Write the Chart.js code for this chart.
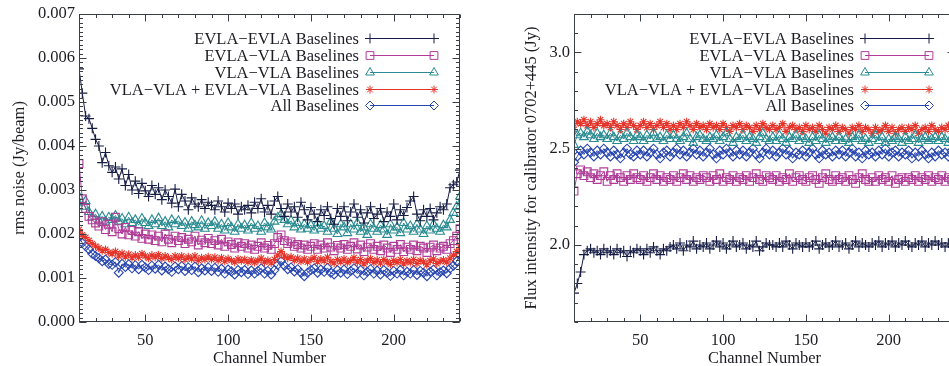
<!DOCTYPE html>
<html>
<head>
<meta charset="utf-8">
<script src="https://cdn.jsdelivr.net/npm/chart.js@4.4.1/dist/chart.umd.min.js"></script>
<style>
  html, body { margin: 0; padding: 0; background: #fff; width: 949px; height: 366px; overflow: hidden; position: relative; }
  canvas { position: absolute; top: 0; }
  #noise { left: 0; }
  #flux { left: 495px; }
</style>
</head>
<body>
<canvas id="noise" width="475" height="366"></canvas>
<canvas id="flux" width="475" height="366"></canvas>
<script>
// channel numbers (every 2nd channel)
const channels = [
  10, 12, 14, 16, 18, 20, 22, 24, 26, 28,
  30, 32, 34, 36, 38, 40, 42, 44, 46, 48,
  50, 52, 54, 56, 58, 60, 62, 64, 66, 68,
  70, 72, 74, 76, 78, 80, 82, 84, 86, 88,
  90, 92, 94, 96, 98, 100, 102, 104, 106, 108,
  110, 112, 114, 116, 118, 120, 122, 124, 126, 128,
  130, 132, 134, 136, 138, 140, 142, 144, 146, 148,
  150, 152, 154, 156, 158, 160, 162, 164, 166, 168,
  170, 172, 174, 176, 178, 180, 182, 184, 186, 188,
  190, 192, 194, 196, 198, 200, 202, 204, 206, 208,
  210, 212, 214, 216, 218, 220, 222, 224, 226, 228,
  230, 232, 234, 236, 238, 240
];

const seriesNames = [
  'EVLA\u2212EVLA Baselines',
  'EVLA\u2212VLA Baselines',
  'VLA\u2212VLA Baselines',
  'VLA\u2212VLA + EVLA\u2212VLA Baselines',
  'All Baselines'
];

// rms noise (Jy/beam)
const noiseEE = [
  0.00575, 0.00520, 0.00468, 0.00462, 0.00440, 0.00415, 0.00400, 0.00362, 0.00385, 0.00355,
  0.00340, 0.00352, 0.00325, 0.00348, 0.00310, 0.00335, 0.00300, 0.00320, 0.00292, 0.00315,
  0.00298, 0.00285, 0.00310, 0.00290, 0.00305, 0.00278, 0.00300, 0.00285, 0.00270, 0.00302,
  0.00262, 0.00290, 0.00275, 0.00255, 0.00282, 0.00268, 0.00262, 0.00278, 0.00258, 0.00272,
  0.00265, 0.00255, 0.00275, 0.00262, 0.00250, 0.00270, 0.00258, 0.00268, 0.00245, 0.00262,
  0.00255, 0.00265, 0.00248, 0.00272, 0.00258, 0.00280, 0.00250, 0.00265, 0.00245, 0.00275,
  0.00285, 0.00258, 0.00240, 0.00268, 0.00250, 0.00262, 0.00238, 0.00272, 0.00255, 0.00232,
  0.00260, 0.00245, 0.00228, 0.00255, 0.00242, 0.00262, 0.00235, 0.00222, 0.00258, 0.00240,
  0.00262, 0.00230, 0.00250, 0.00268, 0.00238, 0.00255, 0.00225, 0.00248, 0.00262, 0.00235,
  0.00245, 0.00258, 0.00228, 0.00250, 0.00240, 0.00268, 0.00232, 0.00255, 0.00242, 0.00260,
  0.00275, 0.00285, 0.00245, 0.00230, 0.00255, 0.00240, 0.00258, 0.00232, 0.00248, 0.00262,
  0.00255, 0.00268, 0.00305, 0.00312, 0.00318, 0.00345
];
const noiseEV = [
  0.00360, 0.00280, 0.00258, 0.00240, 0.00232, 0.00225, 0.00218, 0.00228, 0.00210, 0.00222,
  0.00205, 0.00238, 0.00212, 0.00200, 0.00215, 0.00198, 0.00208, 0.00195, 0.00205, 0.00190,
  0.00200, 0.00188, 0.00198, 0.00185, 0.00195, 0.00182, 0.00200, 0.00188, 0.00180, 0.00195,
  0.00185, 0.00192, 0.00178, 0.00188, 0.00182, 0.00195, 0.00175, 0.00186, 0.00180, 0.00190,
  0.00178, 0.00185, 0.00175, 0.00188, 0.00172, 0.00182, 0.00176, 0.00168, 0.00180, 0.00172,
  0.00178, 0.00168, 0.00175, 0.00165, 0.00172, 0.00180, 0.00168, 0.00174, 0.00165, 0.00178,
  0.00192, 0.00198, 0.00185, 0.00178, 0.00182, 0.00172, 0.00176, 0.00168, 0.00175, 0.00165,
  0.00172, 0.00178, 0.00165, 0.00175, 0.00168, 0.00180, 0.00170, 0.00162, 0.00174, 0.00168,
  0.00176, 0.00165, 0.00172, 0.00180, 0.00166, 0.00175, 0.00160, 0.00170, 0.00178, 0.00165,
  0.00172, 0.00162, 0.00175, 0.00168, 0.00158, 0.00172, 0.00165, 0.00176, 0.00160, 0.00170,
  0.00165, 0.00175, 0.00162, 0.00172, 0.00168, 0.00158, 0.00170, 0.00175, 0.00162, 0.00168,
  0.00172, 0.00165, 0.00178, 0.00185, 0.00195, 0.00212
];
const noiseVV = [
  0.00285, 0.00262, 0.00275, 0.00250, 0.00238, 0.00245, 0.00230, 0.00240, 0.00228, 0.00238,
  0.00232, 0.00242, 0.00228, 0.00235, 0.00222, 0.00238, 0.00225, 0.00232, 0.00220, 0.00235,
  0.00225, 0.00218, 0.00232, 0.00222, 0.00236, 0.00218, 0.00228, 0.00215, 0.00232, 0.00222,
  0.00230, 0.00218, 0.00226, 0.00212, 0.00228, 0.00220, 0.00215, 0.00230, 0.00212, 0.00225,
  0.00218, 0.00228, 0.00212, 0.00222, 0.00208, 0.00225, 0.00215, 0.00205, 0.00222, 0.00212,
  0.00220, 0.00208, 0.00225, 0.00212, 0.00218, 0.00205, 0.00225, 0.00215, 0.00210, 0.00228,
  0.00238, 0.00245, 0.00232, 0.00222, 0.00230, 0.00215, 0.00225, 0.00210, 0.00222, 0.00212,
  0.00220, 0.00208, 0.00225, 0.00212, 0.00218, 0.00205, 0.00228, 0.00212, 0.00200, 0.00222,
  0.00215, 0.00202, 0.00222, 0.00210, 0.00225, 0.00205, 0.00215, 0.00198, 0.00222, 0.00212,
  0.00205, 0.00220, 0.00210, 0.00198, 0.00222, 0.00208, 0.00215, 0.00202, 0.00225, 0.00210,
  0.00218, 0.00205, 0.00222, 0.00210, 0.00200, 0.00218, 0.00208, 0.00222, 0.00212, 0.00205,
  0.00220, 0.00215, 0.00232, 0.00248, 0.00262, 0.00285
];
const noiseMix = [
  0.00210, 0.00198, 0.00192, 0.00185, 0.00178, 0.00172, 0.00168, 0.00162, 0.00165, 0.00158,
  0.00155, 0.00160, 0.00150, 0.00156, 0.00148, 0.00154, 0.00146, 0.00152, 0.00147, 0.00155,
  0.00150, 0.00145, 0.00152, 0.00147, 0.00153, 0.00144, 0.00150, 0.00146, 0.00142, 0.00150,
  0.00145, 0.00150, 0.00142, 0.00148, 0.00143, 0.00150, 0.00140, 0.00146, 0.00142, 0.00148,
  0.00142, 0.00147, 0.00140, 0.00146, 0.00138, 0.00144, 0.00140, 0.00136, 0.00143, 0.00139,
  0.00142, 0.00136, 0.00141, 0.00135, 0.00140, 0.00145, 0.00136, 0.00140, 0.00134, 0.00142,
  0.00152, 0.00160, 0.00150, 0.00145, 0.00148, 0.00140, 0.00145, 0.00138, 0.00143, 0.00136,
  0.00142, 0.00146, 0.00137, 0.00143, 0.00139, 0.00147, 0.00138, 0.00134, 0.00142, 0.00137,
  0.00143, 0.00135, 0.00140, 0.00146, 0.00136, 0.00142, 0.00132, 0.00139, 0.00144, 0.00135,
  0.00141, 0.00134, 0.00142, 0.00137, 0.00131, 0.00140, 0.00135, 0.00142, 0.00132, 0.00139,
  0.00135, 0.00142, 0.00133, 0.00140, 0.00137, 0.00130, 0.00139, 0.00143, 0.00133, 0.00138,
  0.00141, 0.00136, 0.00145, 0.00152, 0.00160, 0.00175
];
const noiseAll = [
  0.00192, 0.00180, 0.00172, 0.00165, 0.00155, 0.00150, 0.00145, 0.00138, 0.00142, 0.00132,
  0.00130, 0.00136, 0.00112, 0.00132, 0.00125, 0.00131, 0.00122, 0.00129, 0.00120, 0.00130,
  0.00124, 0.00118, 0.00128, 0.00121, 0.00130, 0.00117, 0.00126, 0.00120, 0.00114, 0.00126,
  0.00120, 0.00127, 0.00116, 0.00124, 0.00118, 0.00126, 0.00113, 0.00122, 0.00117, 0.00124,
  0.00116, 0.00123, 0.00114, 0.00121, 0.00110, 0.00119, 0.00115, 0.00108, 0.00118, 0.00113,
  0.00118, 0.00109, 0.00117, 0.00110, 0.00116, 0.00122, 0.00110, 0.00116, 0.00108, 0.00118,
  0.00130, 0.00138, 0.00128, 0.00120, 0.00124, 0.00115, 0.00120, 0.00112, 0.00104, 0.00112,
  0.00118, 0.00122, 0.00112, 0.00119, 0.00114, 0.00123, 0.00112, 0.00108, 0.00118, 0.00112,
  0.00119, 0.00109, 0.00116, 0.00122, 0.00110, 0.00118, 0.00106, 0.00114, 0.00120, 0.00110,
  0.00117, 0.00108, 0.00118, 0.00112, 0.00105, 0.00116, 0.00110, 0.00118, 0.00106, 0.00114,
  0.00110, 0.00118, 0.00107, 0.00116, 0.00112, 0.00104, 0.00114, 0.00119, 0.00106, 0.00113,
  0.00117, 0.00111, 0.00122, 0.00128, 0.00138, 0.00152
];

// flux intensity for calibrator 0702+445 (Jy)
const fluxEE = [
  1.75, 1.80, 1.86, 1.95, 1.97, 1.98, 1.96, 1.97, 1.95, 1.98,
  1.96, 1.97, 1.95, 1.98, 1.96, 1.97, 1.94, 1.97, 1.96, 1.98,
  1.97, 1.95, 1.98, 1.96, 1.99, 1.97, 1.95, 1.98, 1.97, 1.99,
  2.00, 1.98, 2.01, 1.97, 2.00, 1.99, 2.02, 1.98, 2.00, 1.99,
  2.01, 1.98, 2.00, 2.02, 1.99, 2.01, 1.98, 2.00, 2.02, 1.99,
  2.00, 2.01, 1.98, 2.00, 1.99, 2.02, 1.97, 1.99, 2.01, 2.00,
  2.00, 1.99, 2.01, 1.99, 2.02, 2.00, 1.98, 2.01, 2.00, 1.99,
  2.01, 1.99, 2.00, 2.02, 1.98, 2.00, 2.01, 1.99, 2.00, 2.02,
  1.99, 2.00, 2.01, 1.98, 2.00, 2.02, 1.99, 2.01, 2.00, 1.99,
  2.01, 2.00, 2.02, 1.99, 2.01, 2.00, 2.02, 1.99, 2.01, 2.00,
  2.02, 2.00, 1.99, 2.01, 2.00, 2.02, 1.99, 2.01, 2.00, 2.02,
  2.00, 2.01, 1.99, 2.01, 2.00, 2.00
];
const fluxEV = [
  2.28, 2.37, 2.39, 2.36, 2.38, 2.35, 2.37, 2.34, 2.36, 2.38,
  2.33, 2.36, 2.34, 2.37, 2.35, 2.33, 2.36, 2.34, 2.37, 2.35,
  2.34, 2.36, 2.33, 2.35, 2.37, 2.34, 2.36, 2.33, 2.35, 2.34,
  2.36, 2.33, 2.35, 2.37, 2.34, 2.36, 2.33, 2.35, 2.34, 2.36,
  2.35, 2.33, 2.36, 2.34, 2.37, 2.33, 2.35, 2.34, 2.36, 2.33,
  2.35, 2.34, 2.36, 2.33, 2.35, 2.37, 2.34, 2.33, 2.36, 2.35,
  2.34, 2.36, 2.33, 2.35, 2.34, 2.37, 2.33, 2.35, 2.36, 2.34,
  2.33, 2.35, 2.36, 2.34, 2.32, 2.35, 2.37, 2.34, 2.33, 2.36,
  2.34, 2.35, 2.33, 2.36, 2.34, 2.32, 2.35, 2.37, 2.34, 2.33,
  2.35, 2.33, 2.36, 2.34, 2.35, 2.33, 2.36, 2.32, 2.34, 2.35,
  2.33, 2.35, 2.34, 2.36, 2.33, 2.35, 2.34, 2.36, 2.33, 2.35,
  2.34, 2.36, 2.33, 2.35, 2.34, 2.35
];
const fluxVV = [
  2.52, 2.57, 2.58, 2.56, 2.59, 2.57, 2.55, 2.58, 2.56, 2.57,
  2.55, 2.58, 2.56, 2.54, 2.57, 2.55, 2.58, 2.56, 2.54, 2.57,
  2.56, 2.54, 2.57, 2.55, 2.58, 2.55, 2.56, 2.54, 2.57, 2.55,
  2.57, 2.55, 2.54, 2.56, 2.58, 2.55, 2.53, 2.56, 2.57, 2.55,
  2.54, 2.56, 2.55, 2.57, 2.54, 2.56, 2.58, 2.55, 2.53, 2.56,
  2.55, 2.57, 2.54, 2.56, 2.55, 2.53, 2.56, 2.58, 2.55, 2.54,
  2.56, 2.54, 2.57, 2.55, 2.53, 2.56, 2.55, 2.57, 2.54, 2.56,
  2.55, 2.53, 2.56, 2.54, 2.57, 2.55, 2.53, 2.55, 2.56, 2.54,
  2.56, 2.54, 2.55, 2.53, 2.56, 2.55, 2.57, 2.54, 2.55, 2.53,
  2.55, 2.57, 2.54, 2.56, 2.53, 2.55, 2.54, 2.56, 2.55, 2.53,
  2.56, 2.54, 2.55, 2.57, 2.53, 2.55, 2.56, 2.54, 2.55, 2.56,
  2.54, 2.56, 2.55, 2.53, 2.56, 2.55
];
const fluxMix = [
  2.60, 2.64, 2.63, 2.65, 2.62, 2.64, 2.61, 2.63, 2.65, 2.62,
  2.63, 2.61, 2.64, 2.62, 2.60, 2.63, 2.61, 2.64, 2.62, 2.60,
  2.62, 2.64, 2.61, 2.63, 2.60, 2.62, 2.64, 2.61, 2.63, 2.60,
  2.62, 2.60, 2.63, 2.61, 2.64, 2.62, 2.60, 2.63, 2.61, 2.62,
  2.60, 2.63, 2.61, 2.62, 2.60, 2.63, 2.61, 2.59, 2.62, 2.61,
  2.63, 2.60, 2.62, 2.61, 2.59, 2.62, 2.60, 2.63, 2.61, 2.60,
  2.62, 2.60, 2.61, 2.63, 2.59, 2.61, 2.62, 2.60, 2.61, 2.59,
  2.62, 2.60, 2.61, 2.59, 2.62, 2.60, 2.58, 2.61, 2.60, 2.62,
  2.59, 2.61, 2.60, 2.58, 2.61, 2.60, 2.62, 2.59, 2.61, 2.60,
  2.58, 2.61, 2.59, 2.60, 2.62, 2.59, 2.61, 2.58, 2.60, 2.61,
  2.59, 2.61, 2.60, 2.62, 2.58, 2.60, 2.61, 2.59, 2.62, 2.60,
  2.59, 2.61, 2.60, 2.62, 2.59, 2.61
];
const fluxAll = [
  2.43, 2.46, 2.49, 2.47, 2.50, 2.48, 2.46, 2.49, 2.47, 2.50,
  2.48, 2.46, 2.49, 2.47, 2.45, 2.48, 2.50, 2.47, 2.46, 2.49,
  2.47, 2.49, 2.46, 2.48, 2.50, 2.47, 2.45, 2.48, 2.49, 2.46,
  2.48, 2.50, 2.47, 2.49, 2.46, 2.48, 2.50, 2.47, 2.49, 2.46,
  2.48, 2.50, 2.47, 2.45, 2.49, 2.47, 2.50, 2.48, 2.46, 2.49,
  2.47, 2.49, 2.46, 2.48, 2.50, 2.47, 2.45, 2.48, 2.50, 2.47,
  2.49, 2.46, 2.48, 2.50, 2.47, 2.49, 2.45, 2.48, 2.47, 2.49,
  2.46, 2.48, 2.50, 2.47, 2.45, 2.49, 2.47, 2.48, 2.46, 2.49,
  2.47, 2.49, 2.46, 2.48, 2.50, 2.46, 2.48, 2.45, 2.49, 2.47,
  2.48, 2.46, 2.49, 2.47, 2.50, 2.46, 2.48, 2.49, 2.46, 2.48,
  2.47, 2.49, 2.45, 2.48, 2.46, 2.49, 2.47, 2.45, 2.48, 2.46,
  2.49, 2.47, 2.48, 2.46, 2.49, 2.47
];

// axis ticks
const xTicks = [50, 100, 150, 200];
const xTickLabels = ['50', '100', '150', '200'];
const noiseTicks = [0, 0.001, 0.002, 0.003, 0.004, 0.005, 0.006, 0.007];
const noiseTickLabels = ['0.000', '0.001', '0.002', '0.003', '0.004', '0.005', '0.006', '0.007'];
const fluxTicks = [2.0, 2.5, 3.0];
const fluxTickLabels = ['2.0', '2.5', '3.0'];

const FONT = "'Liberation Serif', 'Times New Roman', serif";
const FONT_SIZE = 16.5;
const INK = '#1c1c22';
const AXIS = '#3a3e47';
const seriesColors = ['#161d45', '#b03c98', '#2a8c92', '#e5352b', '#2846b0'];
const seriesMarkers = ['cross', 'rect', 'triangle', 'star', 'rectRot'];
const markerSizes = [5, 5.5, 5, 4, 4.5];

// box frame with IDL-style inward ticks on all four sides
const frameTicks = {
  id: 'frameTicks',
  afterDraw(chart, args, opts) {
    const { ctx, chartArea: a } = chart;
    const sx = chart.scales.x, sy = chart.scales.y;
    const L = Math.round(a.left) + 0.5, R = Math.round(a.right) - 0.5;
    const T = Math.round(a.top) + 0.5, B = Math.round(a.bottom) - 0.5;
    ctx.save();
    ctx.strokeStyle = AXIS;
    ctx.lineWidth = 1;
    ctx.strokeRect(L, T, R - L, B - T);
    ctx.beginPath();
    const markX = (v, len) => {
      const p = Math.round(sx.getPixelForValue(v)) + 0.5;
      ctx.moveTo(p, B); ctx.lineTo(p, B - len);
      ctx.moveTo(p, T); ctx.lineTo(p, T + len);
    };
    const markY = (v, len) => {
      const p = Math.round(sy.getPixelForValue(v)) + 0.5;
      ctx.moveTo(L, p); ctx.lineTo(L + len, p);
      ctx.moveTo(R, p); ctx.lineTo(R - len, p);
    };
    for (let k = Math.ceil(sx.min / opts.xMinor - 1e-6); k * opts.xMinor <= sx.max + 1e-9; k++) markX(k * opts.xMinor, 3.5);
    for (let k = Math.ceil(sy.min / opts.yMinor - 1e-6); k * opts.yMinor <= sy.max * (1 + 1e-9); k++) markY(k * opts.yMinor, 3.5);
    sx.ticks.forEach(t => markX(t.value, 7));
    sy.ticks.forEach(t => markY(t.value, 7));
    ctx.stroke();
    ctx.restore();
  }
};

// legend: right-aligned text, then a line sample with a marker at each end
const sideLegend = {
  id: 'sideLegend',
  afterDraw(chart) {
    const { ctx, chartArea: a } = chart;
    const textRight = a.right - 101;
    const x1 = a.right - 90, x2 = a.right - 26;
    ctx.save();
    ctx.font = FONT_SIZE + 'px ' + FONT;
    ctx.textAlign = 'right';
    ctx.textBaseline = 'alphabetic';
    chart.data.datasets.forEach((ds, i) => {
      const yy = Math.round(a.top + 24.5 + i * 16.75) + 0.5;
      ctx.fillStyle = INK;
      ctx.fillText(ds.label, textRight, yy + 5.5);
      ctx.strokeStyle = ds.borderColor;
      ctx.lineWidth = 1;
      ctx.beginPath();
      ctx.moveTo(x1, yy);
      ctx.lineTo(x2, yy);
      ctx.stroke();
      ctx.fillStyle = 'rgba(0,0,0,0)';
      [x1, x2].forEach(px => {
        Chart.helpers.drawPoint(ctx, { pointStyle: ds.pointStyle, radius: ds.pointRadius, borderWidth: 1, rotation: 0 }, px, yy);
      });
    });
    ctx.restore();
  }
};

function makePanel(id, cfg) {
  const font = { family: FONT, size: FONT_SIZE };
  return new Chart(document.getElementById(id), {
    type: 'line',
    data: {
      datasets: cfg.series.map((vals, i) => ({
        label: seriesNames[i],
        data: channels.map((c, j) => ({ x: c, y: vals[j] })),
        borderColor: seriesColors[i],
        borderWidth: 1,
        pointStyle: seriesMarkers[i],
        pointRadius: markerSizes[i],
        pointBorderColor: seriesColors[i],
        pointBackgroundColor: 'rgba(0,0,0,0)',
        pointBorderWidth: 1.1,
        tension: 0,
        fill: false
      }))
    },
    options: {
      responsive: false,
      animation: false,
      devicePixelRatio: 1,
      events: [],
      layout: { padding: { top: 11, right: 15, bottom: 0, left: 0 } },
      plugins: {
        legend: { display: false },
        tooltip: { enabled: false },
        frameTicks: { xMinor: 10, yMinor: cfg.yMinor }
      },
      scales: {
        x: {
          type: 'linear',
          min: 10,
          max: 240,
          afterBuildTicks: s => { s.ticks = xTicks.map(v => ({ value: v })); },
          afterFit: s => { s.height = 44; },
          grid: { display: false, drawTicks: false },
          border: { display: false },
          ticks: { font, color: INK, padding: 9, maxRotation: 0, autoSkip: false,
                   callback: (v, i) => xTickLabels[i] },
          title: { display: true, text: 'Channel Number', font, color: INK, padding: { top: 0, bottom: -3 } }
        },
        y: {
          min: cfg.yMin,
          max: cfg.yMax,
          afterBuildTicks: s => { s.ticks = cfg.ticks.map(v => ({ value: v })); },
          afterFit: s => { s.width = 79; },
          grid: { display: false, drawTicks: false },
          border: { display: false },
          ticks: { font, color: INK, padding: 4, autoSkip: false,
                   callback: (v, i) => cfg.tickLabels[i] },
          title: { display: true, text: cfg.title, font, color: INK, padding: { top: cfg.titlePad, bottom: 0 } }
        }
      }
    },
    plugins: [frameTicks, sideLegend]
  });
}

makePanel('noise', {
  series: [noiseEE, noiseEV, noiseVV, noiseMix, noiseAll],
  yMin: 0, yMax: 0.007, yMinor: 0.0001,
  ticks: noiseTicks, tickLabels: noiseTickLabels,
  title: 'rms noise (Jy/beam)', titlePad: 10
});

makePanel('flux', {
  series: [fluxEE, fluxEV, fluxVV, fluxMix, fluxAll],
  yMin: 1.6, yMax: 3.2, yMinor: 0.1,
  ticks: fluxTicks, tickLabels: fluxTickLabels,
  title: 'Flux intensity for calibrator 0702+445 (Jy)', titlePad: 27
});
</script>
</body>
</html>
